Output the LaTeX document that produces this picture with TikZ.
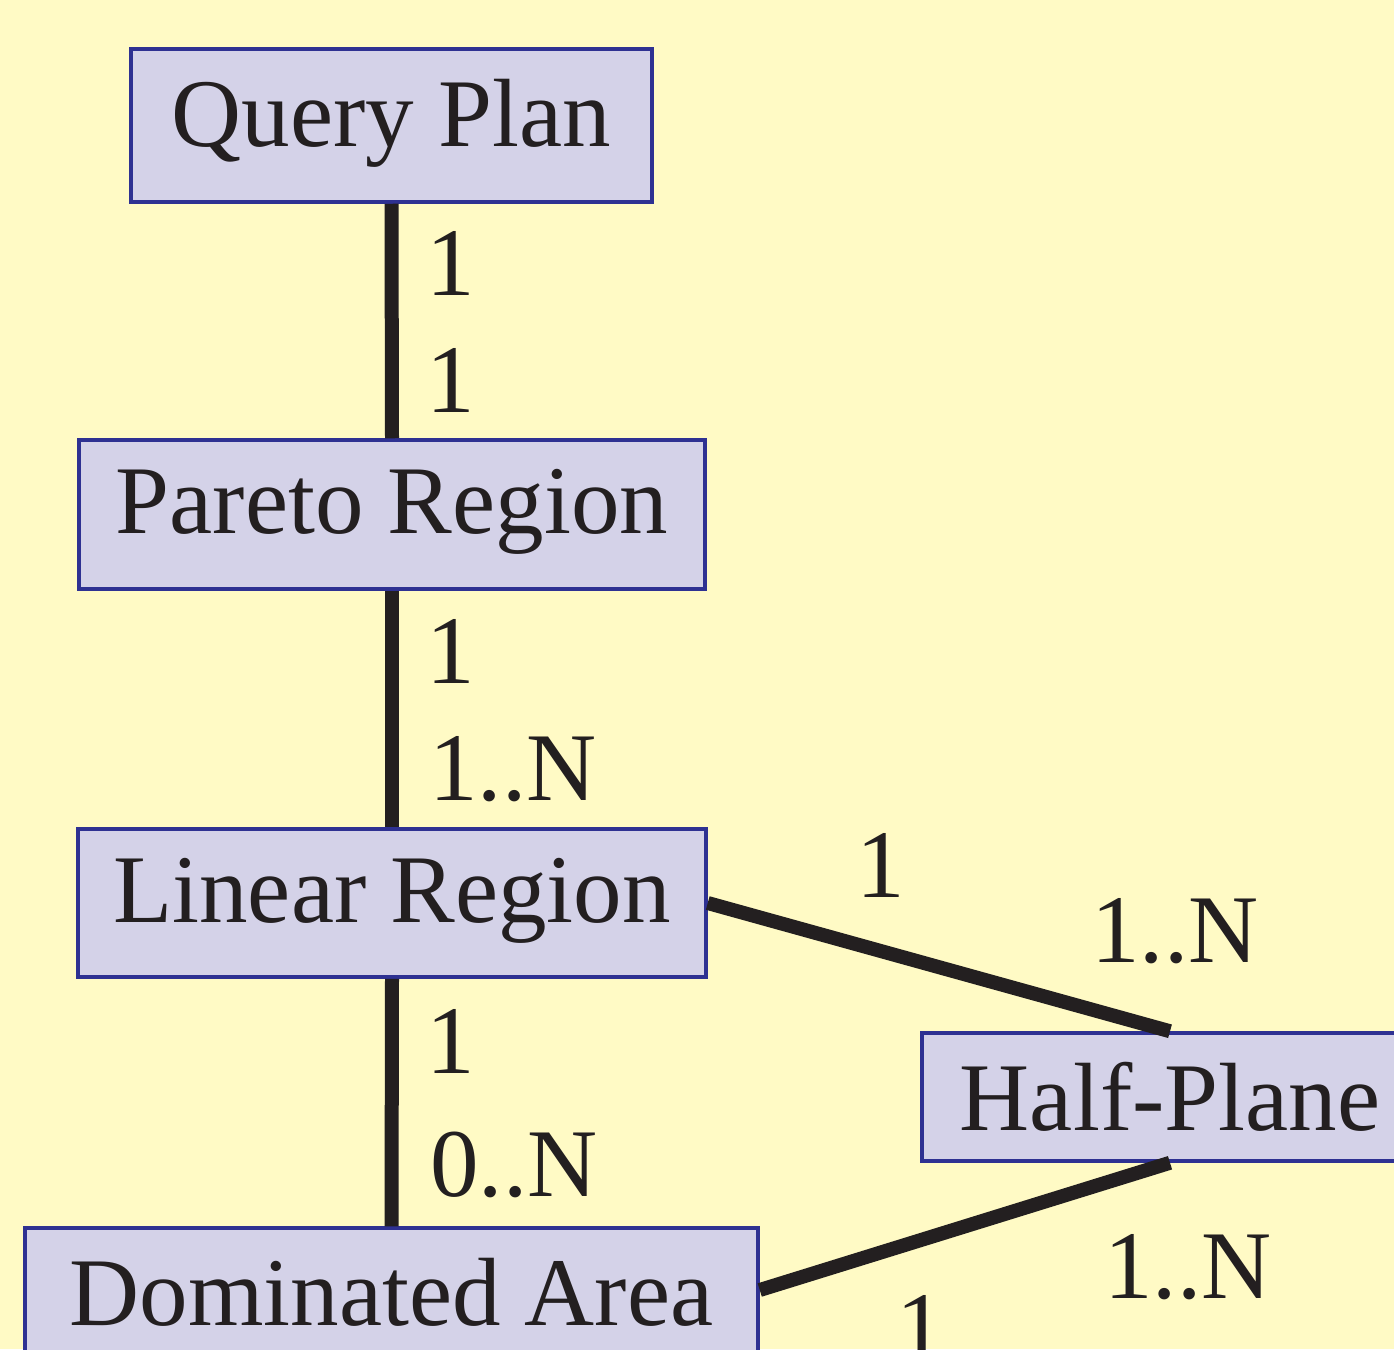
\documentclass[tikz,border=0pt]{standalone}
\IfFileExists{pplr8t.tfm}{%
  \usepackage[T1]{fontenc}%
  \renewcommand\rmdefault{ppl}%
  \newcommand\labelsize{\fontsize{90}{100}\selectfont}%
}{%
  \usepackage{fontspec}%
  \setmainfont{Liberation Serif}%
  \newcommand\labelsize{\fontsize{97}{106}\selectfont}%
}
\definecolor{paper}{RGB}{255,250,197}
\definecolor{boxfill}{RGB}{212,210,232}
\definecolor{boxline}{RGB}{46,49,146}
\definecolor{ink}{RGB}{35,31,32}
\tikzset{
  entity/.style={draw=boxline, line width=3.5pt, fill=boxfill, text=ink,
    inner sep=0pt, text depth=0pt, font=\labelsize},
  mult/.style={anchor=base, inner sep=0pt, text=ink, font=\labelsize},
  conn/.style={draw=ink, line width=14pt, line cap=butt}
}
\begin{document}
\begin{tikzpicture}[x=1pt, y=-1pt]
  \fill[paper] (0,0) rectangle (1394,1349);
  \useasboundingbox (0,0) rectangle (1394,1349);

  % entity boxes
  \node[entity, minimum width=521pt, minimum height=153pt, text height=41pt] (qp) at (391.5,125.5) {Query Plan};
  \node[entity, minimum width=626pt, minimum height=149pt, text height=37pt] (pr) at (392,514.5) {Pareto Region};
  \node[entity, minimum width=628pt, minimum height=148pt, text height=38pt] (lr) at (392,903) {Linear Region};
  \node[entity, minimum width=496pt, minimum height=128pt, text height=66pt] (hp) at (1170,1097) {Half-Plane};
  \node[entity, minimum width=733pt, minimum height=148pt, text height=46pt] (da) at (391.5,1302) {Dominated Area};

  % relationships
  \draw[conn] (qp.south) -- (pr.north);
  \draw[conn] (pr.south) -- (lr.north);
  \draw[conn] (lr.south) -- (da.north);
  \draw[conn] (lr.east) -- (hp.north);
  \draw[conn] (hp.south) -- ([yshift=12pt]da.east);

  % multiplicities
  \node[mult] (m1) at (451,295) {1};
  \node[mult] (m2) at (451,412) {1};
  \node[mult] (m3) at (451,683) {1};
  \node[mult] (m4) at (513,800) {1..N};
  \node[mult] (m5) at (451,1073) {1};
  \node[mult] (m6) at (514,1196) {0..N};
  \node[mult] (m7) at (881,897) {1};
  \node[mult] (m8) at (1175,962) {1..N};
  \node[mult] (m9) at (1188,1298) {1..N};
  \node[mult] (m10) at (921,1359) {1};
\end{tikzpicture}
\end{document}
